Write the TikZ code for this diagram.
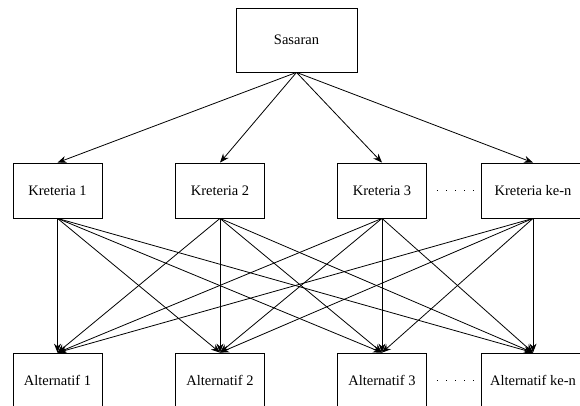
\documentclass[tikz,border=0pt]{standalone}
\usepackage{fontspec}
\setmainfont{Liberation Serif}
\usetikzlibrary{arrows.meta}
\begin{document}
\begin{tikzpicture}[x=1bp,y=-1bp,
  box/.style={draw,line width=0.8bp,inner sep=0pt,font=\fontsize{14.5bp}{16bp}\selectfont},
  crit/.style={box,minimum width=89bp,minimum height=55bp},
  conn/.style={line width=0.8bp,-{Stealth[length=9bp,width=7bp]}},
  dots/.style={line width=1.1bp,dash pattern=on 1.1bp off 8bp}]
\useasboundingbox (0,0) rectangle (580,405);
\clip (0,0) rectangle (580,405);
\node[box,minimum width=121bp,minimum height=64bp] (s) at (296.5,40) {Sasaran};
\node[crit] (k1) at (57.5,190.5) {Kreteria 1};
\node[crit] (k2) at (220,190.5) {Kreteria 2};
\node[crit] (k3) at (382,190.5) {Kreteria 3};
\node[crit,minimum width=104bp] (k4) at (533,190.5) {Kreteria ke-n};
\node[crit] (a1) at (57.5,380.5) {Alternatif 1};
\node[crit] (a2) at (220,380.5) {Alternatif 2};
\node[crit] (a3) at (382,380.5) {Alternatif 3};
\node[crit,minimum width=104bp] (a4) at (533,380.5) {Alternatif ke-n};
\foreach \k in {k1,k2,k3,k4} \draw[conn] (s.south) -- (\k.north);
\foreach \k in {k1,k2,k3,k4} \foreach \a in {a1,a2,a3,a4} \draw[conn] (\k.south) -- (\a.north);
\coordinate (d1) at ([xshift=10bp]k3.east);
\coordinate (d2) at ([xshift=-6bp]k4.west);
\draw[dots] (d1) -- (d2);
\coordinate (e1) at ([xshift=10bp]a3.east);
\coordinate (e2) at ([xshift=-6bp]a4.west);
\draw[dots] (e1) -- (e2);
\end{tikzpicture}
\end{document}
